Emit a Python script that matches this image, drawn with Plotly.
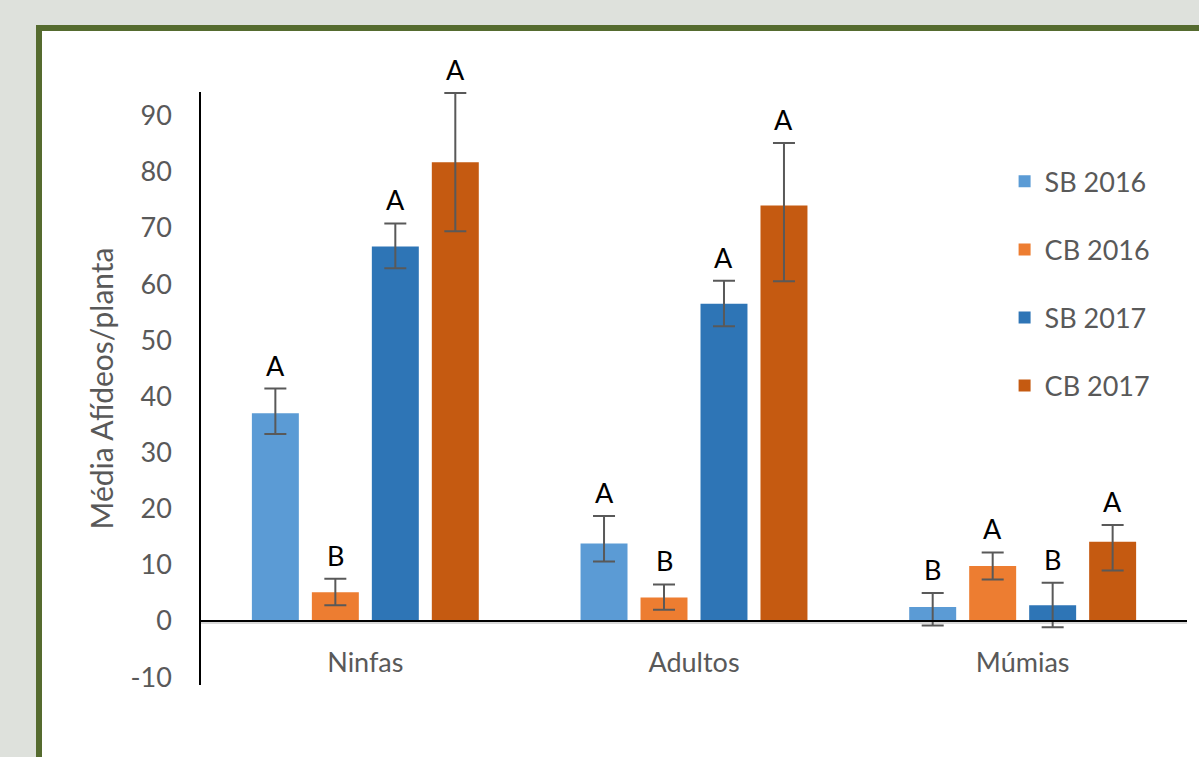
import plotly.graph_objects as go

categories = ["Ninfas", "Adultos", "Múmias"]
series_names = ["SB 2016", "CB 2016", "SB 2017", "CB 2017"]
sb2016 = [37.0, 13.8, 2.5]
sb2016_err_plus = [4.4, 4.9, 2.5]
sb2016_err_minus = [3.7, 3.2, 3.3]
cb2016 = [5.1, 4.2, 9.8]
cb2016_err_plus = [2.4, 2.3, 2.4]
cb2016_err_minus = [2.3, 2.2, 2.4]
sb2017 = [66.7, 56.5, 2.8]
sb2017_err_plus = [4.1, 4.1, 4.0]
sb2017_err_minus = [3.9, 4.0, 3.9]
cb2017 = [81.7, 74.0, 14.1]
cb2017_err_plus = [12.3, 11.1, 3.0]
cb2017_err_minus = [12.3, 13.5, 5.1]
letters_sb2016 = ["A", "A", "B"]
letters_cb2016 = ["B", "B", "A"]
letters_sb2017 = ["A", "A", "B"]
letters_cb2017 = ["A", "A", "A"]
y_ticks = [-10, 0, 10, 20, 30, 40, 50, 60, 70, 80, 90]
y_ticktext = ["-10", "0", "10", "20", "30", "40", "50", "60", "70", "80", "90"]

colors = ["#5B9BD5", "#ED7D31", "#2E75B6", "#C55A11"]
values = [sb2016, cb2016, sb2017, cb2017]
err_plus = [sb2016_err_plus, cb2016_err_plus, sb2017_err_plus, cb2017_err_plus]
err_minus = [sb2016_err_minus, cb2016_err_minus, sb2017_err_minus, cb2017_err_minus]
letters = [letters_sb2016, letters_cb2016, letters_sb2017, letters_cb2017]

FONT = "Lato"
FS = 27
W, H = 1199, 757
ML, MR, MT, MB = 201, 12, 92, 72
BARGAP, BARGROUPGAP = 0.27, 0.217
YR = [-11.4, 94.2]

fig = go.Figure()
for i, name in enumerate(series_names):
    fig.add_trace(go.Bar(
        x=categories, y=values[i], name=name,
        marker=dict(color=colors[i], line=dict(width=0)),
        error_y=dict(type="data", symmetric=False, array=err_plus[i],
                     arrayminus=err_minus[i], visible=True,
                     color="#595959", thickness=2, width=11),
        legendgroup=name,
    ))

# letter annotations above error bars
plot_w = W - ML - MR
cat_w = plot_w / len(categories)
pitch = cat_w * (1 - BARGAP) / len(series_names)
for i in range(len(series_names)):
    off = (i - (len(series_names) - 1) / 2) * pitch
    for j, c in enumerate(categories):
        fig.add_annotation(x=c, y=values[i][j] + err_plus[i][j], text=letters[i][j],
                           showarrow=False, xshift=off, yanchor="bottom", yshift=5,
                           font=dict(family=FONT, size=FS, color="#000000"))

zero_pos = (0 - YR[0]) / (YR[1] - YR[0])

# panel background with green border
fig.add_shape(type="rect", xref="paper", yref="paper",
              x0=(39 - ML) / plot_w, x1=1.3,
              y0=-0.3, y1=(H - MB - 28) / (H - MT - MB),
              fillcolor="white", line=dict(color="#556B2F", width=6), layer="below")
# light gray category axis line below zero line
fig.add_shape(type="line", xref="paper", yref="y", x0=0, x1=1, y0=-0.35, y1=-0.35,
              line=dict(color="#D9D9D9", width=2), layer="below")

fig.update_layout(
    width=W, height=H,
    margin=dict(l=ML, r=MR, t=MT, b=MB, autoexpand=False),
    paper_bgcolor="#DEE1DC", plot_bgcolor="rgba(0,0,0,0)",
    barmode="group", bargap=BARGAP, bargroupgap=BARGROUPGAP,
    font=dict(family=FONT, size=FS, color="#595959"),
    legend=dict(x=0.815, y=0.89, xanchor="left", yanchor="top",
                font=dict(family=FONT, size=FS, color="#595959"),
                tracegroupgap=30, bgcolor="rgba(0,0,0,0)"),
    showlegend=True,
)
fig.update_xaxes(
    range=[-0.5, 2.5], anchor="free", position=zero_pos,
    showline=True, linecolor="#000000", linewidth=1.5,
    ticks="", ticklabelstandoff=18, showgrid=False,
    tickfont=dict(family=FONT, size=FS, color="#595959"),
)
fig.update_yaxes(
    range=YR, tickvals=y_ticks, ticktext=y_ticktext, showgrid=False, zeroline=False,
    showline=True, linecolor="#000000", linewidth=1.5,
    ticks="", ticklabelstandoff=22,
    tickfont=dict(family=FONT, size=FS, color="#595959"),
    title=dict(text="Média Afídeos/planta", standoff=8,
               font=dict(family=FONT, size=30, color="#595959")),
)

fig.write_html("out.html")
